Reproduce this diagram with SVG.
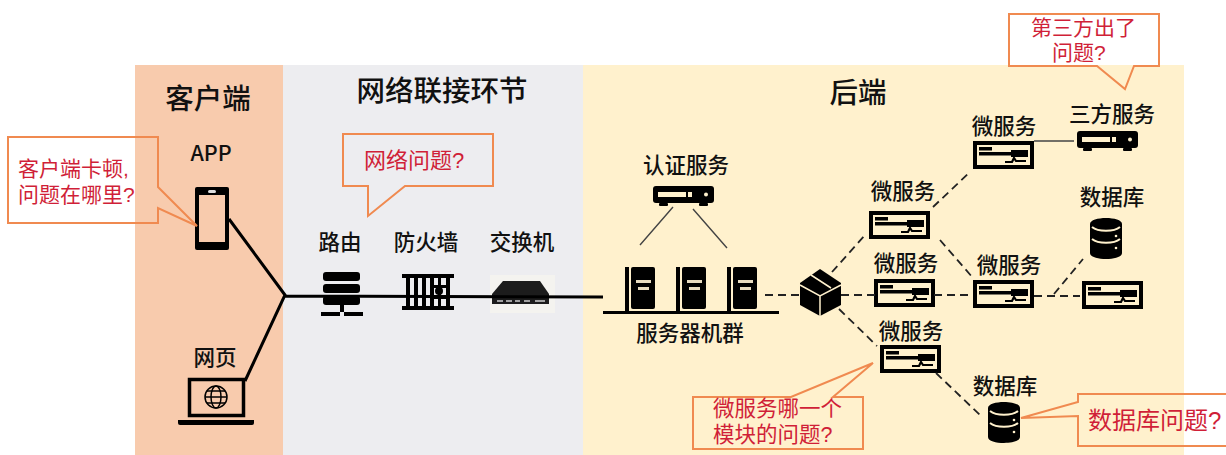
<svg xmlns="http://www.w3.org/2000/svg" width="1226" height="455" viewBox="0 0 1226 455">
<style>
text{font-family:"Noto Sans CJK SC","Liberation Sans",sans-serif;fill:#111;text-anchor:middle}
.h{font-size:28.500px;font-weight:500}
.l{font-size:21.500px;font-weight:500}
.c{font-family:"Liberation Sans","Noto Sans CJK SC",sans-serif;font-size:21px;fill:#d01f38;font-weight:400;text-anchor:start}
.call{fill:none;stroke:#f08a50;stroke-width:2}
.solid{fill:none;stroke:#000;stroke-width:3}
.thin{fill:none;stroke:#444;stroke-width:1.400}
.dash{fill:none;stroke:#222;stroke-width:1.800;stroke-dasharray:8 5}
</style>
<defs>
<g id="svc">
<rect x="2" y="2" width="57" height="24" fill="none" stroke="#000" stroke-width="4"/>
<rect x="6" y="6" width="13" height="3.500" fill="#000"/>
<rect x="6" y="11" width="34" height="3.500" fill="#000"/>
<rect x="38" y="9" width="17" height="7" fill="#000"/>
<path d="M32 21H39L41 17L43 20H53" fill="none" stroke="#000" stroke-width="2.200"/>
</g>
<g id="dev">
<rect x="0" y="0" width="61" height="17" rx="3" fill="#000"/>
<rect x="6" y="17" width="9" height="3" rx="1" fill="#000"/>
<rect x="46" y="17" width="9" height="3" rx="1" fill="#000"/>
<rect x="5" y="6" width="28" height="5" fill="#fff1cd"/>
<rect x="35" y="6" width="4" height="5" fill="#fff1cd"/>
<circle cx="53" cy="8.500" r="2" fill="#fff1cd"/>
</g>
<g id="db">
<path d="M0 6C0-2 32-2 32 6V35C32 43 0 43 0 35Z" fill="#000"/>
<path d="M2 9C8 14 24 14 30 9M2 21C8 26 24 26 30 21" fill="none" stroke="#fff1cd" stroke-width="2"/>
<circle cx="26" cy="18" r="1.300" fill="#fff1cd"/><circle cx="26" cy="30" r="1.300" fill="#fff1cd"/>
</g>
<g id="tower">
<rect x="0" y="0" width="4" height="45" fill="#000"/>
<rect x="6" y="0" width="24" height="42" rx="2" fill="#000"/>
<rect x="11" y="13" width="15" height="3" fill="#e8dcc0"/>
<rect x="13" y="20" width="11" height="3" fill="#e8dcc0"/>
</g>
</defs>

<g id="panels">
<rect x="135" y="65" width="148" height="390" fill="#f8cbad"/>
<rect x="283" y="65" width="300" height="390" fill="#ededf0"/>
<rect x="583" y="65" width="601" height="390" fill="#fff1cd"/>
<text class="h" x="208" y="109">客户端</text>
<text class="h" x="442" y="101">网络联接环节</text>
<text class="h" x="858" y="103">后端</text>
</g>

<g id="node-app">
<text class="l" x="211" y="161">APP</text>
<rect x="195" y="187" width="34" height="63" rx="2" fill="#000"/>
<rect x="199" y="195" width="26" height="47" fill="#f8cbad"/>
<rect x="208" y="190" width="8" height="3" rx="1.500" fill="#ddd"/>
</g>
<g id="node-web">
<text class="l" x="215" y="365">网页</text>
<rect x="189.500" y="379.500" width="54" height="36" fill="none" stroke="#000" stroke-width="3.500"/>
<path d="M178 420H254V423Q254 425 252 425H180Q178 425 178 423Z" fill="#000"/>
<g fill="none" stroke="#000" stroke-width="1.500"><circle cx="216" cy="397" r="11"/><ellipse cx="216" cy="397" rx="5" ry="11"/><path d="M205 397H227M207 391H225M207 403H225"/></g>
</g>
<g id="node-router">
<text class="l" x="340" y="250">路由</text>
<g fill="#000"><rect x="323" y="272" width="37" height="9" rx="3"/><rect x="323" y="284" width="37" height="9" rx="3"/><rect x="323" y="296" width="37" height="9" rx="3"/><rect x="340" y="305" width="4" height="7"/><rect x="321" y="312" width="19" height="4"/><rect x="344" y="312" width="19" height="4"/></g>
</g>
<g id="node-firewall">
<text class="l" x="426" y="250">防火墙</text>
<g fill="#000"><rect x="402" y="274" width="52" height="4"/><rect x="402" y="306" width="52" height="4"/><rect x="406" y="274" width="4" height="36"/><rect x="414" y="274" width="4" height="36"/><rect x="422" y="274" width="4" height="36"/><rect x="430" y="274" width="4" height="36"/><rect x="438" y="274" width="3" height="36"/><rect x="446" y="274" width="4" height="36"/><rect x="430" y="285" width="20" height="3"/><rect x="430" y="296" width="20" height="3"/><circle cx="439" cy="291" r="4"/></g>
</g>
<g id="node-switch">
<text class="l" x="522" y="250">交换机</text>
<rect x="490" y="275" width="65" height="38" fill="#f4f3ef"/>
<path d="M503 281H540L549 294V304H492V294Z" fill="#1c1c1c"/>
<path d="M497 301H503M506 301H512M515 301H520M524 301H530M535 301H545" stroke="#ccc" stroke-width="1.500" fill="none"/>
</g>
<g id="node-auth">
<text class="l" x="686" y="173">认证服务</text>
<use href="#dev" x="653" y="186"/>
</g>
<g id="node-cluster">
<use href="#tower" x="625" y="267"/><use href="#tower" x="676" y="267"/><use href="#tower" x="727" y="267"/>
<rect x="603" y="311" width="176" height="3" fill="#000"/>
<text class="l" x="690" y="341">服务器机群</text>
</g>
<g id="node-gateway">
<path d="M820 269L841 283V305L820 316L800 305V283Z" fill="#000"/>
<path d="M800 285L820 296L841 285M820 296V316M811 275L831 288" fill="none" stroke="#fff1cd" stroke-width="1.500"/>
</g>
<g id="node-svc1"><text class="l" x="903" y="199">微服务</text><use href="#svc" x="869" y="211"/></g>
<g id="node-svc2"><text class="l" x="1004" y="134">微服务</text><use href="#svc" x="973" y="141"/></g>
<g id="node-svc3"><text class="l" x="906" y="271">微服务</text><use href="#svc" x="874" y="279"/></g>
<g id="node-svc4"><text class="l" x="1009" y="273">微服务</text><use href="#svc" x="973" y="280"/></g>
<g id="node-svc5"><use href="#svc" x="1082" y="281"/></g>
<g id="node-svc6"><text class="l" x="911" y="339">微服务</text><use href="#svc" x="880" y="345"/></g>
<g id="node-third"><text class="l" x="1112" y="122">三方服务</text><use href="#dev" x="1077" y="131"/></g>
<g id="node-db1"><text class="l" x="1112" y="205">数据库</text><use href="#db" x="1090" y="218"/></g>
<g id="node-db2"><text class="l" x="1005" y="394">数据库</text><use href="#db" x="988" y="402"/></g>

<g id="connectors">
<path class="solid" d="M229 219L285 295L245 381M285 296L603 297"/>
<path class="thin" d="M640 245L673 207M693 209L727 248M1034 141L1074 141"/>
<path class="dash" d="M765 295H800M841 295H875M934 295H973M1034 296H1080M832 272L866 234M933 207L970 172M940 240L973 278M839 309L877 346M936 373L982 417M1054 294L1083 259"/>
</g>

<g id="callout-client">
<path class="call" d="M8 137H158V187L197 226L158 208V223H8Z"/>
<text class="c" x="18" y="176">客户端卡顿,<tspan x="18" dy="26">问题在哪里?</tspan></text>
</g>
<g id="callout-network">
<path class="call" d="M343 134H493V186H405L368 216V186H343Z"/>
<text class="c" x="364" y="168" style="font-size:22px">网络问题?</text>
</g>
<g id="callout-third">
<path class="call" d="M1009 14H1159V66H1134L1125 89L1097 66H1009Z"/>
<text class="c" x="1031" y="35">第三方出了<tspan x="1052" dy="25">问题?</tspan></text>
</g>
<g id="callout-svc">
<path class="call" d="M693 397H791L873 363L833 397H863V449H693Z"/>
<text class="c" x="713" y="416" style="font-size:21.500px">微服务哪一个<tspan x="713" dy="26">模块的问题?</tspan></text>
</g>
<g id="callout-db">
<path class="call" d="M1228 394H1078V402L1021 418L1078 416V446H1228"/>
<text class="c" x="1088" y="429" style="font-size:24px">数据库问题?</text>
</g>
</svg>
